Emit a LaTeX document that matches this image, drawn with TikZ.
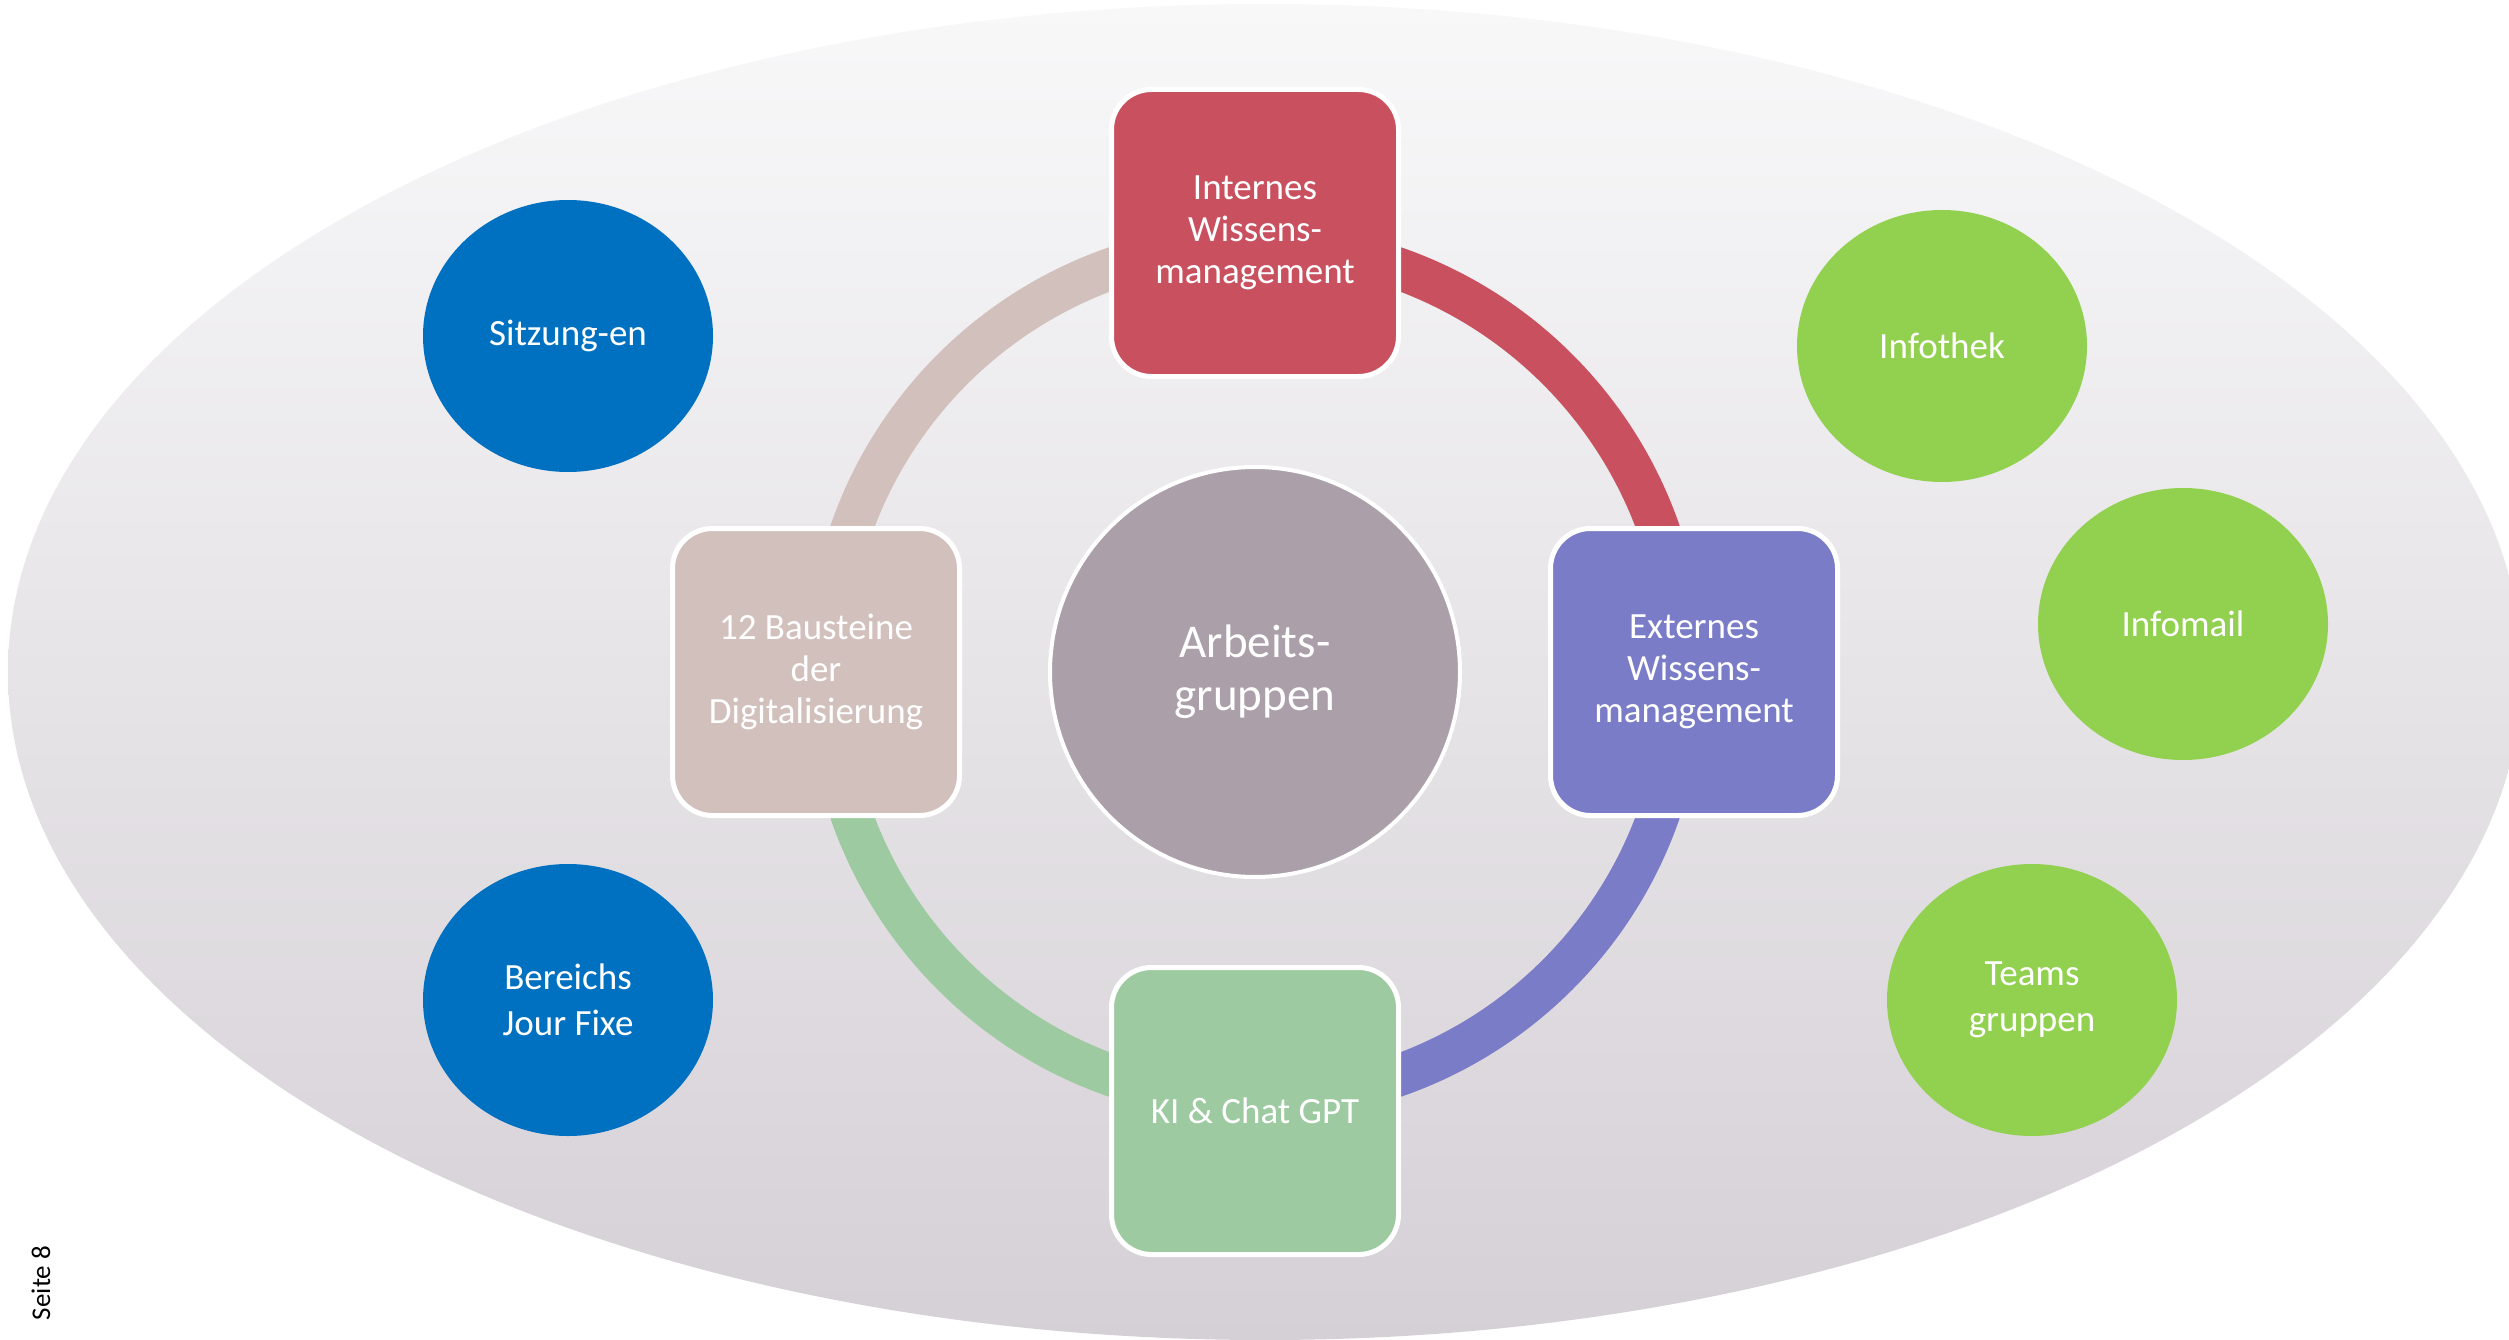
\documentclass[tikz,border=0pt]{standalone}
\usepackage{fontspec}
\setmainfont{Carlito}
\usetikzlibrary{shapes.geometric,calc}
\definecolor{ellTop}{RGB}{248,248,249}
\definecolor{ellBot}{RGB}{213,208,214}
\definecolor{boxRed}{RGB}{201,81,95}
\definecolor{boxBlue}{RGB}{122,124,199}
\definecolor{boxGreen}{RGB}{157,202,160}
\definecolor{boxBeige}{RGB}{210,192,189}
\definecolor{centerC}{RGB}{171,160,169}
\definecolor{bubBlue}{RGB}{0,112,192}
\definecolor{bubGreen}{RGB}{146,208,80}
\begin{document}
\begin{tikzpicture}[x=1pt,y=1pt,
  sqbox/.style={draw=white, line width=5pt, rounded corners=40pt,
    minimum width=287pt, minimum height=287pt, text=white, align=center,
    font=\fontsize{37}{42}\selectfont, inner sep=0pt},
  bubble/.style={ellipse, minimum width=290pt, minimum height=272pt,
    text=white, align=center, font=\fontsize{37}{46}\selectfont, inner sep=0pt},
  ringarc/.style={line width=42pt}
]
\useasboundingbox (0,0) rectangle (2509,-1340);
\fill[white] (0,0) rectangle (2509,-1340);
\begin{scope}
\clip (0,0) rectangle (2509,-1340);
\shade[top color=ellTop, bottom color=ellBot] (1265,-672) ellipse[x radius=1257, y radius=668];
\end{scope}

% ring arcs
\coordinate (ringc) at (1255,-672);
\coordinate (rtop) at ($(ringc)+(90:428)$);
\coordinate (rright) at ($(ringc)+(0:428)$);
\coordinate (rbottom) at ($(ringc)+(270:428)$);
\draw[ringarc, draw=boxBeige] (rtop) arc[start angle=90, end angle=180, radius=428];
\draw[ringarc, draw=boxRed] (rtop) arc[start angle=90, end angle=0, radius=428];
\draw[ringarc, draw=boxBlue] (rright) arc[start angle=0, end angle=-90, radius=428];
\draw[ringarc, draw=boxGreen] (rbottom) arc[start angle=270, end angle=180, radius=428];

% boxes
\node[sqbox, fill=boxRed] (intern) at (1255,-233) {Internes\\Wissens-\\management};
\node[sqbox, fill=boxBlue] (extern) at (1694,-672) {Externes\\Wissens-\\management};
\node[sqbox, fill=boxGreen] (ki) at (1255,-1111) {KI \& Chat GPT};
\node[sqbox, fill=boxBeige] (bau) at (816,-672) {12 Bausteine\\der\\Digitalisierung};

% center
\node[circle, draw=white, line width=4pt, fill=centerC, minimum size=410pt,
  text=white, align=center, font=\fontsize{47}{53}\selectfont, inner sep=0pt]
  (arb) at (ringc) {Arbeits-\\gruppen};

% bubbles
\node[bubble, fill=bubBlue] (sitz) at (568,-336) {Sitzung-en};
\node[bubble, fill=bubBlue] (jour) at (568,-1000) {Bereichs\\Jour Fixe};
\node[bubble, fill=bubGreen] (infothek) at (1942,-346) {Infothek};
\node[bubble, fill=bubGreen] (infomail) at (2183,-624) {Infomail};
\node[bubble, fill=bubGreen] (teams) at (2032,-1000) {Teams\\gruppen};

% page label
\node[rotate=90, font=\fontsize{27}{32}\selectfont, inner sep=0pt] (seite) at (41,-1283) {Seite 8};
\end{tikzpicture}
\end{document}
